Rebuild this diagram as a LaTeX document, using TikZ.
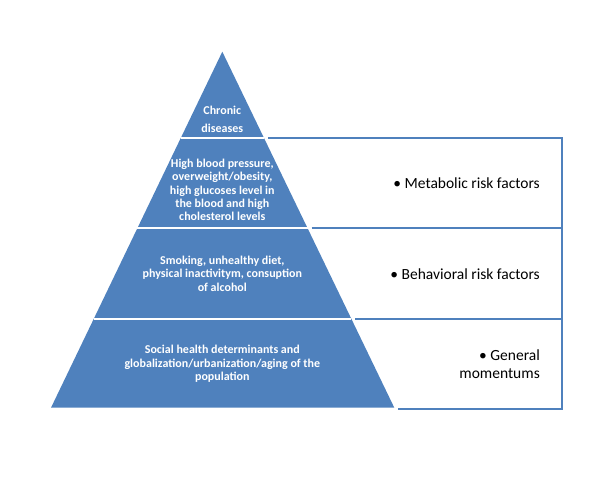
\documentclass[tikz,border=0pt]{standalone}
\usepackage{fontspec}
\setmainfont{Carlito}
\usetikzlibrary{positioning,calc}
\definecolor{pyrblue}{HTML}{4F81BD}

\begin{document}
\begin{tikzpicture}[x=1pt,y=-1pt,
    level/.style={text=white,font=\bfseries\fontsize{12}{13.4}\selectfont,align=center,inner sep=0pt},
    risk/.style={font=\fontsize{15.5}{18}\selectfont,align=right,anchor=east,inner sep=0pt},
    box/.style={pyrblue,line width=1.6pt}]
    \useasboundingbox (0,0) rectangle (609,480);
    \coordinate (apex) at (222.3,51.7);
    \coordinate (bl) at (51,407.7);
    \coordinate (br) at (394.3,407.7);
    \coordinate (boxr) at (562,0);
    \fill[pyrblue] (apex) -- (bl) -- (br) -- cycle;
    \foreach \t/\n in {0.2416/a,0.496/b,0.75/c}{
        \coordinate (l\n) at ($(apex)!\t!(bl)$);
        \coordinate (r\n) at ($(apex)!\t!(br)$);
        \draw[white,line width=2pt] (l\n) -- (r\n);
    }
    % frame on the right
    \draw[box] ($(ra)+(4,0)$) -- (ra -| boxr) -- ($(br -| boxr)+(0,1.5)$) -- ($(br)+(4,1.5)$);
    \draw[box] ($(rb)+(4,0)$) -- (rb -| boxr);
    \draw[box] ($(rc)+(4,0)$) -- (rc -| boxr);
    \node[level] (chronic) at (222.3,119) {Chronic\\[4.6pt]diseases};
    \node[level] (metabolic) at (222.3,190) {High blood pressure,\\overweight/obesity,\\high glucoses level in\\the blood and high\\cholesterol levels};
    \node[level] (behavior) at (222.3,273.5) {Smoking, unhealthy diet,\\physical inactivitym, consuption\\of alcohol};
    \node[level] (social) at (222.3,364) {Social health determinants and\\globalization/urbanization/aging of the\\population};
    \node[risk] (metabrisk) at (540,183.5) {\textbullet{} Metabolic risk factors};
    \node[risk] (behavrisk) at (540,274) {\textbullet{} Behavioral risk factors};
    \node[risk] (general) at (540,364) {\textbullet{} General\\momentums};
\end{tikzpicture}
\end{document}
